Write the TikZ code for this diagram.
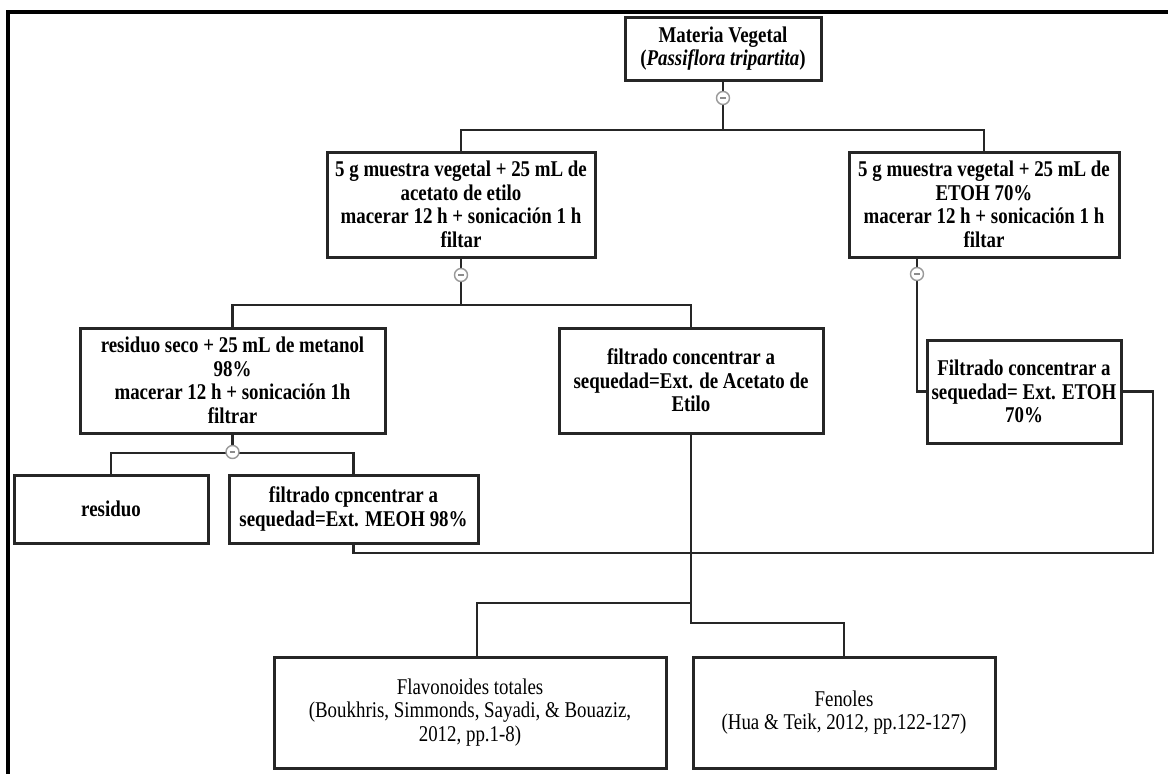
\documentclass[tikz,border=0pt]{standalone}
\usepackage{fontspec}
\setmainfont{Liberation Serif}[FakeStretch=0.84]
\usetikzlibrary{positioning}

\begin{document}
\begin{tikzpicture}[x=1pt,y=-1pt,
        caja/.style={draw=black!85, line width=3pt, align=center, inner sep=0pt,
          font=\fontsize{22.5}{23.5}\selectfont\bfseries},
        cita/.style={caja, font=\fontsize{22.5}{23.5}\selectfont},
        enlace/.style={draw=black!85, line width=2.6pt},
        menos/.style={circle, draw=black!40, fill=white, line width=1.4pt, minimum size=13pt, inner sep=0pt,
          path picture={\draw[black!45, line width=1.4pt]
            ([xshift=-2.8pt]path picture bounding box.center) -- ([xshift=2.8pt]path picture bounding box.center);}}]
        \useasboundingbox (0,0) rectangle (1168,774);
        % marco
        \draw[line width=4pt] (1168,12) -- (8,12) -- (8,774);

        % cajas
        \node[caja, minimum width=196pt, minimum height=63pt] (materia) at (723,48.5)
          {Materia Vegetal\\(\textit{Passiflora tripartita})};
        \node[caja, minimum width=268pt, minimum height=105pt] (acetato) at (461,204.5)
          {5 g muestra vegetal + 25 mL de\\acetato de etilo\\macerar 12 h + sonicación 1 h\\filtar};
        \node[caja, minimum width=270pt, minimum height=105pt] (etoh) at (984,204.5)
          {5 g muestra vegetal + 25 mL de\\ETOH 70\%\\macerar 12 h + sonicación 1 h\\filtar};
        \node[caja, minimum width=305pt, minimum height=105pt] (seco) at (232.5,380.5)
          {residuo seco + 25 mL de metanol\\98\%\\macerar 12 h + sonicación 1h\\filtrar};
        \node[caja, minimum width=264pt, minimum height=105pt] (extacet) at (691,380.5)
          {filtrado concentrar a\\sequedad=Ext. de Acetato de\\Etilo};
        \node[caja, minimum width=194pt, minimum height=103pt] (extetoh) at (1024,391.5)
          {Filtrado concentrar a\\sequedad= Ext. ETOH\\70\%};
        \node[caja, minimum width=194pt, minimum height=68pt] (residuo) at (111,509) {residuo};
        \node[caja, minimum width=249pt, minimum height=68pt] (extmeoh) at (353.5,509)
          {filtrado cpncentrar a\\sequedad=Ext. MEOH 98\%};
        \node[cita, minimum width=392pt, minimum height=111pt] (flavo) at (470,712.5)
          {Flavonoides totales\\(Boukhris, Simmonds, Sayadi, \& Bouaziz,\\2012, pp.1-8)};
        \node[cita, minimum width=302pt, minimum height=111pt] (fenol) at (844,712.5)
          {Fenoles\\(Hua \& Teik, 2012, pp.122-127)};

        % puntos de union
        \coordinate (r1) at (723,130);
        \coordinate (r2) at (461,305);
        \coordinate (r5) at (1153,553);
        \coordinate (r6) at (691,603);
        \coordinate (r7) at (691,623);

        % conectores
        \draw[enlace] (materia) -- (r1);
        \draw[enlace] (acetato.north) |- (r1) -| (etoh.north);
        \draw[enlace] (acetato) -- (r2);
        \draw[enlace] (seco.north) |- (r2) -| (extacet.north);
        \draw[enlace] (etoh.south -| 917,0) -- (917,274) |- (extetoh.west);
        \draw[enlace] (residuo.north) |- (232.5,453) -| (extmeoh.north);
        \draw[enlace] (seco) -- (232.5,453);
        \draw[enlace] (extmeoh.south) |- (r5) |- (extetoh.east);
        \draw[enlace] (extacet.south) -- (r7) -| (fenol.north);
        \draw[enlace] (r6) -| ([xshift=7pt]flavo.north);

        % circulos
        \node[menos] (m1) at (723,98) {};
        \node[menos] (m2) at (461,275) {};
        \node[menos] (m3) at (917,274) {};
        \node[menos] (m4) at (232.5,452) {};
\end{tikzpicture}
\end{document}
